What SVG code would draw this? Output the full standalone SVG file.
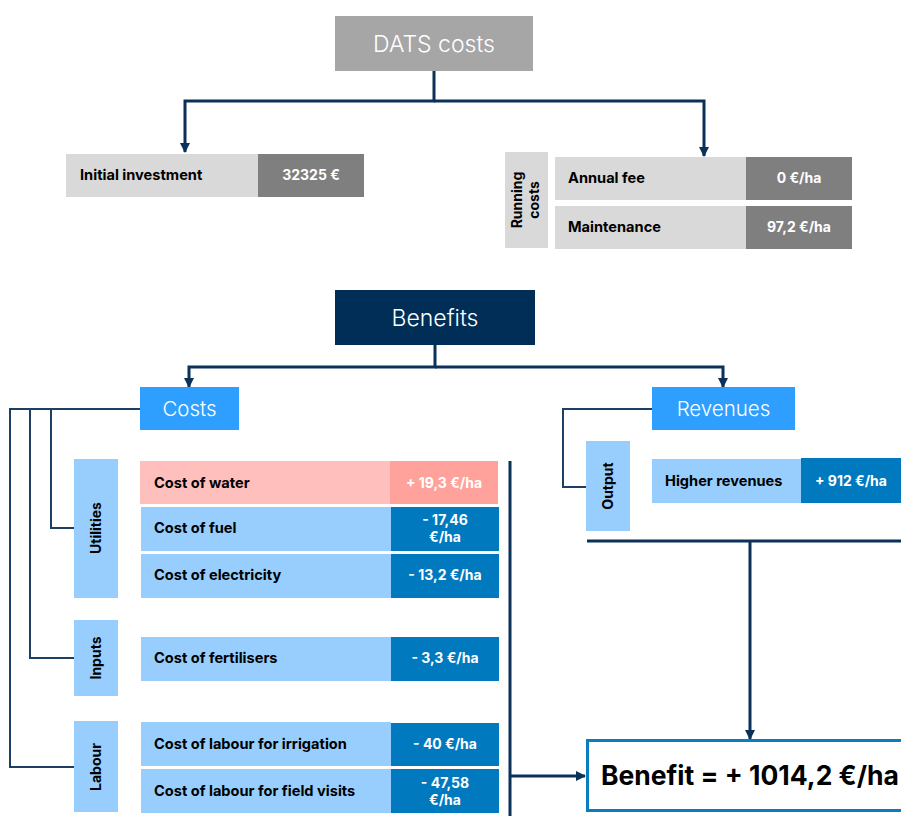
<svg xmlns="http://www.w3.org/2000/svg" width="901" height="816" viewBox="0 0 901 816">
  <style>
    .lbl { font-family: Inter, "Liberation Sans", sans-serif; font-weight: 700; font-size: 14.6px; fill: #000; }
    .val { font-family: Inter, "Liberation Sans", sans-serif; font-weight: 700; font-size: 14px; fill: #fff; text-anchor: middle; }
    .side { font-family: Inter, "Liberation Sans", sans-serif; font-weight: 700; font-size: 14px; fill: #000; text-anchor: middle; }
    .head { font-family: Inter, "Liberation Sans", sans-serif; font-weight: 300; fill: #fff; text-anchor: middle; }
    .conn { fill: none; stroke: #0b3158; stroke-width: 3; }
    .thin { fill: none; stroke: #1c3f63; stroke-width: 2; }
    .grey-l { fill: #d9d9d9; }
    .grey-d { fill: #7f7f7f; }
    .blue-l { fill: #97cefd; }
    .blue-d { fill: #0079bf; }
    .pink-l { fill: #ffc0bd; }
    .pink-d { fill: #fea29b; }
    .mid { fill: #2e9fff; }
  </style>
  <defs>
    <marker id="arrow" viewBox="0 0 10 10" refX="9" refY="5" markerWidth="10" markerHeight="10" markerUnits="userSpaceOnUse" orient="auto">
      <path d="M0,0 L10,5 L0,10 z" fill="#0b3158"/>
    </marker>
  </defs>

  <!-- connectors -->
  <g id="connectors">
    <path class="conn" d="M434,71 V101 H185 V152" marker-end="url(#arrow)"/>
    <path class="conn" d="M434,101 H704 V156" marker-end="url(#arrow)"/>
    <path class="conn" d="M435,345 V367 H189 V387" marker-end="url(#arrow)"/>
    <path class="conn" d="M435,367 H723 V387" marker-end="url(#arrow)"/>
    <path class="thin" d="M140,409 H10 V767 H74"/>
    <path class="thin" d="M30,409 V658 H74"/>
    <path class="thin" d="M51,409 V528 H74"/>
    <path class="thin" d="M652,409 H563 V487 H586"/>
    <path class="conn" d="M510,461 V816"/>
    <path class="conn" d="M510,776 H585" marker-end="url(#arrow)"/>
    <path class="conn" d="M587,541 H901"/>
    <path class="conn" d="M750,541 V739" marker-end="url(#arrow)"/>
  </g>

  <!-- DATS costs -->
  <g id="dats-costs">
    <rect x="335" y="16" width="198" height="55" fill="#a6a6a6"/>
    <text class="head" x="434" y="52" font-size="23">DATS costs</text>
  </g>

  <g id="initial-investment">
    <rect class="grey-l" x="66" y="154" width="192" height="43"/>
    <rect class="grey-d" x="258" y="154" width="106" height="43"/>
    <text class="lbl" x="80" y="180">Initial investment</text>
    <text class="val" x="311" y="180">32325 €</text>
  </g>

  <g id="running-costs">
    <rect class="grey-l" x="505" y="152" width="43" height="96"/>
    <text class="side" transform="translate(522,200) rotate(-90)">Running</text>
    <text class="side" transform="translate(539,200) rotate(-90)">costs</text>
  </g>

  <g id="annual-fee">
    <rect class="grey-l" x="555" y="157" width="191" height="43"/>
    <rect class="grey-d" x="746" y="157" width="106" height="43"/>
    <text class="lbl" x="568" y="183">Annual fee</text>
    <text class="val" x="799" y="183">0 €/ha</text>
  </g>

  <g id="maintenance">
    <rect class="grey-l" x="555" y="206" width="191" height="43"/>
    <rect class="grey-d" x="746" y="206" width="106" height="43"/>
    <text class="lbl" x="568" y="232">Maintenance</text>
    <text class="val" x="799" y="232">97,2 €/ha</text>
  </g>

  <!-- Benefits -->
  <g id="benefits">
    <rect x="335" y="290" width="200" height="55" fill="#002e57"/>
    <text class="head" x="435" y="326" font-size="23">Benefits</text>
  </g>

  <g id="costs">
    <rect class="mid" x="140" y="387" width="99" height="43"/>
    <text class="head" x="189.5" y="416" font-size="20.5">Costs</text>
  </g>

  <g id="revenues">
    <rect class="mid" x="652" y="387" width="143" height="43"/>
    <text class="head" x="723.5" y="416" font-size="20.5">Revenues</text>
  </g>

  <g id="utilities">
    <rect class="blue-l" x="74" y="459" width="44" height="139"/>
    <text class="side" transform="translate(101,528) rotate(-90)">Utilities</text>
  </g>

  <g id="inputs">
    <rect class="blue-l" x="74" y="620" width="44" height="76"/>
    <text class="side" transform="translate(101,658) rotate(-90)">Inputs</text>
  </g>

  <g id="labour">
    <rect class="blue-l" x="74" y="721" width="44" height="91"/>
    <text class="side" transform="translate(101,767) rotate(-90)">Labour</text>
  </g>

  <g id="cost-water">
    <rect class="pink-l" x="140" y="461" width="250" height="43"/>
    <rect class="pink-d" x="390" y="461" width="108" height="43"/>
    <text class="lbl" x="154" y="488">Cost of water</text>
    <text class="val" x="444" y="488">+ 19,3 €/ha</text>
  </g>

  <g id="cost-fuel">
    <rect class="blue-l" x="141" y="507" width="250" height="44"/>
    <rect class="blue-d" x="391" y="507" width="108" height="44"/>
    <text class="lbl" x="154" y="533">Cost of fuel</text>
    <text class="val" x="445" y="525">- 17,46</text>
    <text class="val" x="445" y="542">€/ha</text>
  </g>

  <g id="cost-electricity">
    <rect class="blue-l" x="141" y="554" width="250" height="44"/>
    <rect class="blue-d" x="391" y="554" width="108" height="44"/>
    <text class="lbl" x="154" y="580">Cost of electricity</text>
    <text class="val" x="445" y="580">- 13,2 €/ha</text>
  </g>

  <g id="cost-fertilisers">
    <rect class="blue-l" x="141" y="637" width="250" height="44"/>
    <rect class="blue-d" x="391" y="637" width="108" height="44"/>
    <text class="lbl" x="154" y="663">Cost of fertilisers</text>
    <text class="val" x="445" y="663">- 3,3 €/ha</text>
  </g>

  <g id="cost-labour-irrigation">
    <rect class="blue-l" x="141" y="722" width="250" height="44"/>
    <rect class="blue-d" x="391" y="723" width="108" height="43"/>
    <text class="lbl" x="154" y="749">Cost of labour for irrigation</text>
    <text class="val" x="445" y="749">- 40 €/ha</text>
  </g>

  <g id="cost-labour-visits">
    <rect class="blue-l" x="141" y="769" width="250" height="44"/>
    <rect class="blue-d" x="391" y="769" width="108" height="44"/>
    <text class="lbl" x="154" y="796">Cost of labour for field visits</text>
    <text class="val" x="445" y="788">- 47,58</text>
    <text class="val" x="445" y="805">€/ha</text>
  </g>

  <g id="output">
    <rect class="blue-l" x="586" y="441" width="44" height="90"/>
    <text class="side" transform="translate(613,486) rotate(-90)">Output</text>
  </g>

  <g id="higher-revenues">
    <rect class="blue-l" x="652" y="459" width="149" height="44"/>
    <rect class="blue-d" x="801" y="458" width="100" height="45"/>
    <text class="lbl" x="665" y="486">Higher revenues</text>
    <text class="val" x="851" y="486">+ 912 €/ha</text>
  </g>

  <g id="benefit-total">
    <rect x="587.5" y="740.5" width="316" height="70" fill="#fff" stroke="#0a7cc0" stroke-width="3"/>
    <text x="601" y="785" font-family="Inter, 'Liberation Sans', sans-serif" font-weight="700" font-size="26.5" fill="#000">Benefit = + 1014,2 €/ha</text>
  </g>
</svg>
